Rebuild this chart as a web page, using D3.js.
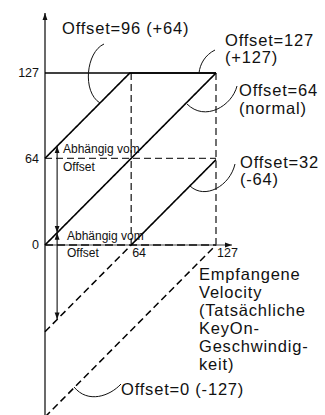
<!DOCTYPE html>
<html>
<head>
<meta charset="utf-8">
<script src="https://cdn.jsdelivr.net/npm/d3@7"></script>
<style>
  html, body { margin: 0; padding: 0; background: #fff; }
  svg { display: block; font-family: "Liberation Sans", Arial, Helvetica, sans-serif; }
</style>
</head>
<body>
<svg id="chart" width="325" height="415"></svg>
<script>
// Velocity curves for several offset settings (input velocity -> output velocity)
const xTicks = [64, 127];
const yTicks = [0, 64, 127];
// each curve: output = min(127, input + shift); solid inside 0..127, dashed where it falls below 0
const curves = [
  { name: "Offset=96 (+64)", shift: 64 },
  { name: "Offset=127 (+127)", shift: 127 },
  { name: "Offset=64 (normal)", shift: 0 },
  { name: "Offset=32 (-64)", shift: -64 },
  { name: "Offset=0 (-127)", shift: -127 }
];
const rightLabels = [
  ["Offset=127", "(+127)"],
  ["Offset=64", "(normal)"],
  ["Offset=32", "(-64)"]
];
const axisLabel = ["Empfangene", "Velocity", "(Tatsächliche", "KeyOn-", "Geschwindig-", "keit)"];
const noteText = ["Abhängig vom", "Offset"];
const arrowAt = 9; // input velocity where the offset arrows sit

const svg = d3.select("#chart");
const x = d3.scaleLinear().domain([0, 127]).range([45, 216]);
const y = d3.scaleLinear().domain([-127, 127]).range([417, 73]);

const defs = svg.append("defs");
defs.append("marker").attr("id", "ah").attr("viewBox", "0 0 10 10")
  .attr("refX", 10).attr("refY", 5).attr("markerWidth", 7).attr("markerHeight", 7)
  .attr("markerUnits", "userSpaceOnUse").attr("orient", "auto-start-reverse")
  .append("path").attr("d", "M0,1.5 L10,5 L0,8.5 Z").attr("fill", "#111");

const g = svg.append("g");

// dashed guides at 64 and 127
g.append("line").attr("x1", x(0)).attr("x2", x(127)).attr("y1", y(64)).attr("y2", y(64))
  .attr("stroke", "#333").attr("stroke-width", 1.2).attr("stroke-dasharray", "7,4");
xTicks.forEach(t => {
  g.append("line").attr("x1", x(t)).attr("x2", x(t)).attr("y1", y(127)).attr("y2", y(0) + (t === 127 ? 4 : 0))
    .attr("stroke", "#111").attr("stroke-width", 1.2).attr("stroke-dasharray", "7,4");
});

// axes
g.append("line").attr("x1", x(0)).attr("x2", x(0)).attr("y1", 415).attr("y2", 13)
  .attr("stroke", "#444").attr("stroke-width", 1.6).attr("marker-end", "url(#ah)");
g.append("line").attr("x1", x(0)).attr("x2", x(127) + 16).attr("y1", y(0)).attr("y2", y(0))
  .attr("stroke", "#444").attr("stroke-width", 1.2).attr("marker-end", "url(#ah)");
g.append("line").attr("x1", x(0)).attr("x2", x(127)).attr("y1", y(0)).attr("y2", y(0))
  .attr("stroke", "#333").attr("stroke-width", 2).attr("stroke-dasharray", "8,4");

// tick labels
g.selectAll(".yt").data(yTicks).join("text")
  .attr("x", x(0) - 6).attr("y", d => y(d)).attr("dy", "0.35em")
  .attr("text-anchor", "end").attr("font-size", 12.5).attr("fill", "#111").text(d => d);
g.selectAll(".xt").data(xTicks).join("text")
  .attr("x", d => x(d) + 1).attr("y", y(0) + 12)
  .attr("font-size", 12.5).attr("fill", "#111").text(d => d);

// curves
const line = d3.line().x(d => x(d[0])).y(d => y(d[1]));
curves.forEach(c => {
  const solid = [];
  const dashed = [];
  d3.range(0, 128).forEach(v => {
    const out = Math.min(127, v + c.shift);
    if (out >= 0) solid.push([v, out]); else dashed.push([v, out]);
  });
  if (dashed.length && solid.length) dashed.push([-c.shift, 0]);
  if (dashed.length && !solid.length) dashed.push([127, 127 + c.shift]);
  if (solid.length > 1) {
    g.append("path").attr("d", line(solid)).attr("fill", "none")
      .attr("stroke", "#000").attr("stroke-width", 1.6);
  }
  if (dashed.length > 1) {
    g.append("path").attr("d", line([dashed[0], dashed[dashed.length - 1]])).attr("fill", "none")
      .attr("stroke", "#000").attr("stroke-width", 1.5).attr("stroke-dasharray", "7,4");
  }
});

// offset arrows
const ax = x(arrowAt);
[[arrowAt, arrowAt + 64], [arrowAt, arrowAt - 64]].forEach(r => {
  g.append("line").attr("x1", ax).attr("x2", ax).attr("y1", y(r[0])).attr("y2", y(r[1]))
    .attr("stroke", "#111").attr("stroke-width", 1.1)
    .attr("marker-start", "url(#ah)").attr("marker-end", "url(#ah)");
});

// notes next to the arrows
[[63, 153, 171], [67, 240, 257]].forEach(p => {
  g.append("text").attr("x", p[0]).attr("y", p[1]).attr("font-size", 12).attr("fill", "#111").text(noteText[0]);
  g.append("text").attr("x", p[0]).attr("y", p[2]).attr("font-size", 12).attr("fill", "#111").text(noteText[1]);
});

// leader curves from labels to their lines
const leaders = [
  "M104,44 C86,52 82,92 100,103",
  "M215,50 C205,55 200,64 199,73",
  "M237,86 C232,106 205,122 187,104",
  "M235,164 C230,186 205,200 190,186",
  "M121,384 C110,396 88,404 74,387"
];
g.selectAll(".ld").data(leaders).join("path").attr("d", d => d)
  .attr("fill", "none").attr("stroke", "#111").attr("stroke-width", 1);

// labels
const fs = 16.5;
const ls = "0.8px";
function label(tx, ty, str) {
  g.append("text").attr("x", tx).attr("y", ty).attr("font-size", fs)
    .attr("letter-spacing", ls).attr("fill", "#111").text(str);
}
label(62, 34, curves[0].name);
const rl = [[225, 46, 63], [239, 96, 114], [240, 168, 185]];
rightLabels.forEach((l, i) => {
  label(rl[i][0], rl[i][1], l[0]);
  label(rl[i][0], rl[i][2], l[1]);
});
label(121, 395, curves[4].name);
axisLabel.forEach((t, i) => label(199, 280 + i * 18, t));
</script>
</body>
</html>
